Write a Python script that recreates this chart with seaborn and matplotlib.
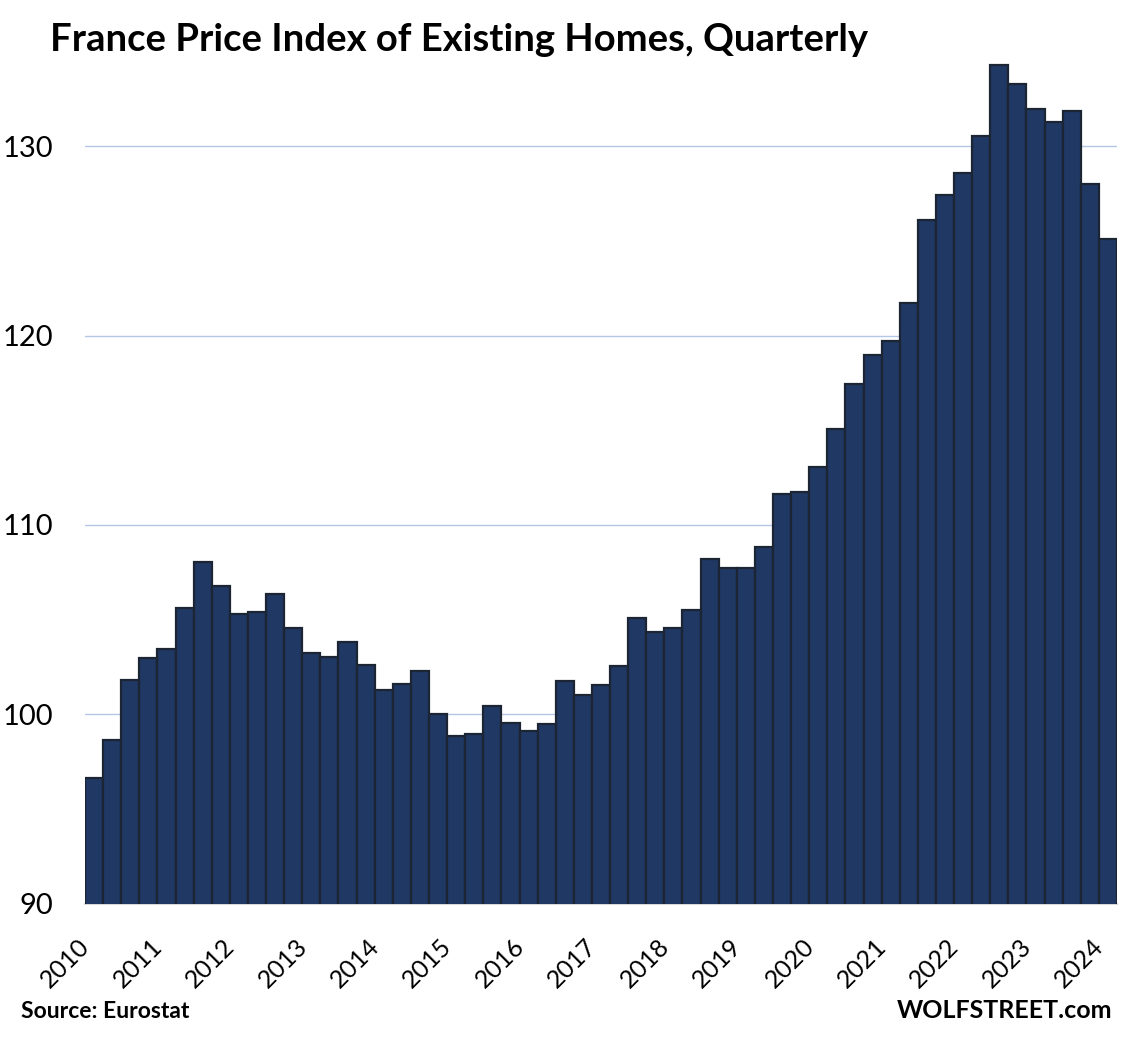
import matplotlib
matplotlib.use("Agg")
import matplotlib.pyplot as plt
import matplotlib.transforms as mtransforms
import numpy as np
import pandas as pd
import seaborn as sns

# quarterly index, 2010 Q1 .. 2024 Q1
years = list(range(2010, 2025))
index_values = [
    96.65, 98.66, 101.83, 102.99,   # 2010
    103.43, 105.63, 108.06, 106.79, # 2011
    105.31, 105.39, 106.34, 104.57, # 2012
    103.25, 103.04, 103.84, 102.62, # 2013
    101.30, 101.62, 102.30, 100.00, # 2014
    98.87, 98.94, 100.45, 99.56,    # 2015
    99.13, 99.50, 101.78, 101.04,   # 2016
    101.56, 102.57, 105.10, 104.36, # 2017
    104.57, 105.53, 108.19, 107.74, # 2018
    107.74, 108.85, 111.62, 111.76, # 2019
    113.05, 115.06, 117.43, 118.96, # 2020
    119.74, 121.74, 126.13, 127.45, # 2021
    128.58, 130.57, 134.32, 133.28, # 2022
    131.99, 131.27, 131.87, 128.03, # 2023
    125.12,                         # 2024
]
quarters = [f"{2010 + i // 4}Q{i % 4 + 1}" for i in range(len(index_values))]
tick_labels = [str(y) for y in years]

df = pd.DataFrame({"quarter": quarters, "index": index_values})

sns.set_style("white")
plt.rcParams['font.family'] = ['Lato', 'DejaVu Sans']
plt.rcParams['text.color'] = 'black'
plt.rcParams['xtick.color'] = 'black'
plt.rcParams['ytick.color'] = 'black'

fig = plt.figure(figsize=(11.21, 10.38), dpi=100)
ax = fig.add_axes([85 / 1121, 1 - 903.6 / 1038, 1032 / 1121, (903.6 - 51.7) / 1038])

sns.barplot(data=df, x="quarter", y="index", color="#203864", width=1.0,
            edgecolor="#1c2533", linewidth=1.6, saturation=1, ax=ax, zorder=3)

ax.set_ylim(90, 135)
ax.set_yticks([90, 100, 110, 120, 130])
ax.set_xlim(-0.5, len(index_values) - 0.5)
ax.yaxis.grid(True, color="#b4c7e7", linewidth=1.0, zorder=0)
ax.set_axisbelow(True)
for s in ["left", "right", "top"]:
    ax.spines[s].set_visible(False)
ax.spines["bottom"].set_color("#d9d9d9")
ax.spines["bottom"].set_linewidth(1.5)
ax.set_xlabel("")
ax.set_ylabel("")

ax.set_xticks(range(0, len(index_values), 4))
ax.set_xticklabels(tick_labels, rotation=45, ha="right", fontsize=18)
offset = mtransforms.ScaledTranslation(9 / 100, 0, fig.dpi_scale_trans)
for lab in ax.get_xticklabels():
    lab.set_transform(lab.get_transform() + offset)
ax.tick_params(axis="x", length=0, pad=22)
ax.tick_params(axis="y", length=0, pad=23, labelsize=21)

fig.text(50 / 1121, 1 - 40 / 1038, "France Price Index of Existing Homes, Quarterly",
         fontsize=27.5, fontweight="bold", va="center", ha="left")
fig.text(21 / 1121, 1 - 1012 / 1038, "Source: Eurostat", fontsize=16.5,
         fontweight="bold", va="center", ha="left")
fig.text(1112 / 1121, 1 - 1011 / 1038, "WOLFSTREET.com", fontsize=18,
         fontweight="bold", va="center", ha="right")

fig.savefig("out.png", dpi=100)
